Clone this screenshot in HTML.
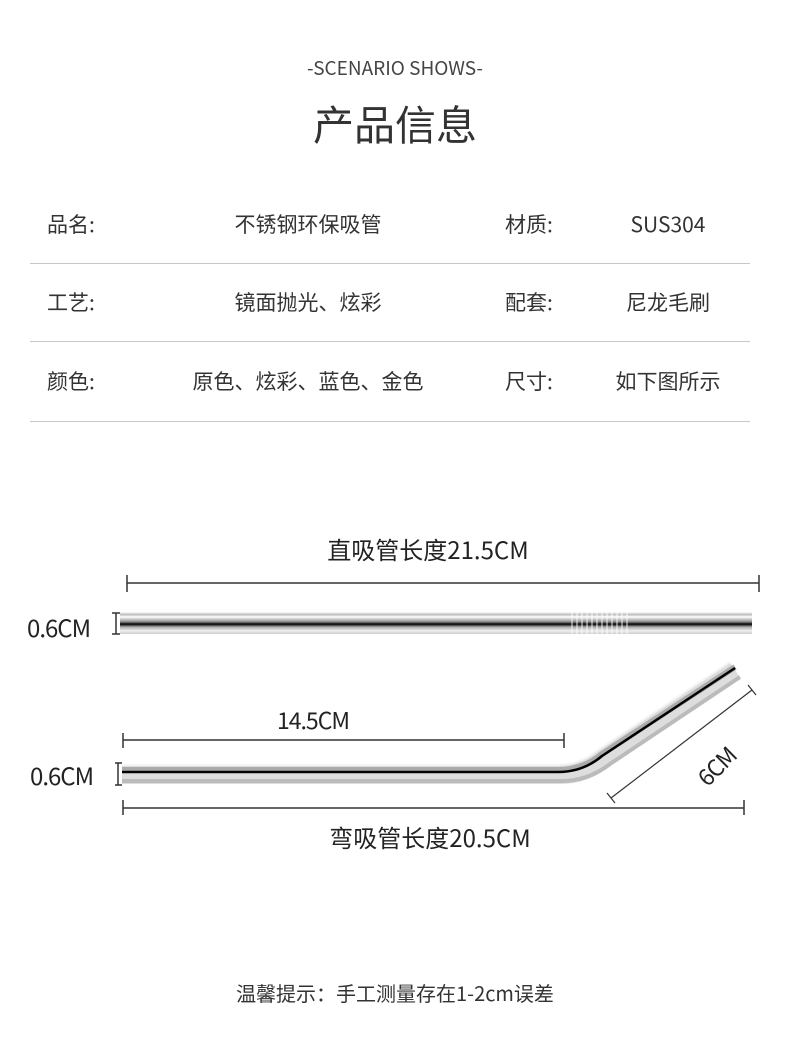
<!DOCTYPE html>
<html><head><meta charset="utf-8"><style>
body{margin:0;width:790px;height:1045px;background:#fff;position:relative;font-family:"Noto Sans CJK SC","Liberation Sans",sans-serif;color:#333;overflow:hidden}
.t{position:absolute;white-space:nowrap;line-height:30px}
.r{font-size:21px}
.hr{position:absolute;left:30px;width:720px;height:1px;background:#c8c8c8}
</style></head><body>
<div class="t" style="left:0;width:790px;text-align:center;top:53px;font-size:19px;color:#444">-SCENARIO SHOWS-</div>
<div class="t" style="left:0;width:790px;text-align:center;top:100px;font-size:41px;line-height:44px;color:#333">产品信息</div>

<div class="t r" style="left:47px;top:209px">品名:</div>
<div class="t r" style="left:208px;width:200px;text-align:center;top:209px">不锈钢环保吸管</div>
<div class="t r" style="left:505px;top:209px">材质:</div>
<div class="t r" style="left:588px;width:160px;text-align:center;top:209px">SUS304</div>
<div class="hr" style="top:263px"></div>

<div class="t r" style="left:47px;top:287px">工艺:</div>
<div class="t r" style="left:208px;width:200px;text-align:center;top:287px">镜面抛光、炫彩</div>
<div class="t r" style="left:505px;top:287px">配套:</div>
<div class="t r" style="left:588px;width:160px;text-align:center;top:287px">尼龙毛刷</div>
<div class="hr" style="top:341px"></div>

<div class="t r" style="left:47px;top:366px">颜色:</div>
<div class="t r" style="left:158px;width:300px;text-align:center;top:366px">原色、炫彩、蓝色、金色</div>
<div class="t r" style="left:505px;top:366px">尺寸:</div>
<div class="t r" style="left:588px;width:160px;text-align:center;top:366px">如下图所示</div>
<div class="hr" style="top:421px"></div>

<div class="t" style="left:228px;width:400px;text-align:center;top:534px;font-size:24px;color:#222">直吸管长度21.5CM</div>
<div class="t" style="left:27px;top:612px;font-size:24px;color:#222;letter-spacing:-1px">0.6CM</div>
<div class="t" style="left:277px;top:704px;font-size:23px;color:#222;letter-spacing:-1px">14.5CM</div>
<div class="t" style="left:30px;top:760px;font-size:24px;color:#222;letter-spacing:-1px">0.6CM</div>
<div class="t" style="left:230px;width:400px;text-align:center;top:822px;font-size:24px;color:#222">弯吸管长度20.5CM</div>
<div class="t" style="left:690px;top:770px;font-size:23px;color:#222;transform:rotate(-45deg);transform-origin:left top;letter-spacing:-1px">6CM</div>
<div class="t" style="left:0;width:790px;text-align:center;top:978px;font-size:20px;color:#333">温馨提示：手工测量存在1-2cm误差</div>

<svg width="790" height="1045" style="position:absolute;left:0;top:0">
<defs>
<linearGradient id="g" x1="0" y1="0" x2="0" y2="1">
<stop offset="0" stop-color="#fff"/><stop offset="0.12" stop-color="#bbb"/><stop offset="0.22" stop-color="#fff"/>
<stop offset="0.45" stop-color="#888"/><stop offset="0.55" stop-color="#000"/><stop offset="0.68" stop-color="#aaa"/>
<stop offset="0.85" stop-color="#eee"/><stop offset="1" stop-color="#ccc"/></linearGradient>
</defs>
<g stroke="#333" stroke-width="1.5" fill="none">
<path d="M127 583H759M127 575V592M759 575V592"/>
<path d="M112 613H120M112 634H120M116 613V634"/>
<path d="M123 740H564M123 733V748M564 733V748"/>
<path d="M115 763H122M115 785H122M118 763V785"/>
<path d="M123 808H744M123 800V815M744 800V815"/>
<path d="M611 798L752 690M607 793L615 803M748 685L756 695" stroke-width="1.2"/>
</g>
<rect x="120" y="612" width="632" height="22" fill="url(#g)"/>
<g stroke="#fff" stroke-width="1" opacity="0.9"><path d="M572 612V634M577 612V634M582 612V634M587 612V634M592 612V634M597 612V634M602 612V634M607 612V634M612 612V634M617 612V634M622 612V634M627 612V634"/></g>
<g fill="none" stroke-linecap="butt">
<path d="M122 774H560Q585 774 604 758L735 670" stroke="#ddd" stroke-width="20"/>
<path d="M122 781H562Q588 781 610 764L740 677" stroke="#bbb" stroke-width="4"/>
<path d="M122 770H558Q583 770 602 754L735 667" stroke="#aaa" stroke-width="6"/>
<path d="M122 772H558Q583 772 602 756L735 668" stroke="#000" stroke-width="2.5"/>
<path d="M122 765H556Q580 765 598 750L730 662" stroke="#f4f4f4" stroke-width="2"/>
</g>
</svg>
</body></html>
